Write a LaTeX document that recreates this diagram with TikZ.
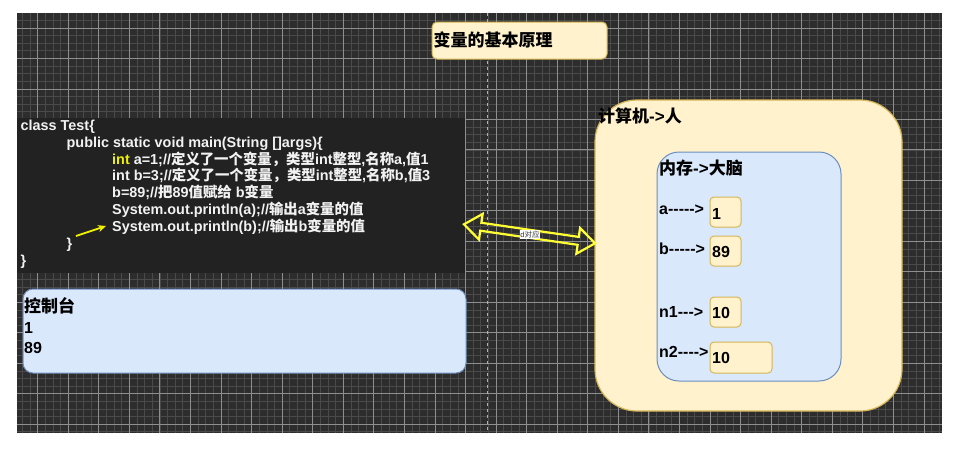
\documentclass[tikz,border=0pt]{standalone}
\usepackage{fontspec}
\setmainfont{Liberation Sans}
\newfontfamily\cjk{Noto Sans CJK SC}
\newcommand\zh[1]{{\cjk #1}}
\newcommand\hy{\mbox{-}}
\usetikzlibrary{arrows.meta}
\definecolor{gridbg}{HTML}{2D2D2D}
\definecolor{gridminor}{HTML}{4A4A4A}
\definecolor{gridmajor}{HTML}{8E8E8E}
\definecolor{board}{HTML}{222222}
\definecolor{yfill}{HTML}{FFF2CC}
\definecolor{ydraw}{HTML}{D6B656}
\definecolor{bfill}{HTML}{DAE8FC}
\definecolor{bdraw}{HTML}{6C8EBF}
\definecolor{codeyellow}{HTML}{F2F200}
\definecolor{arrowyellow}{HTML}{FFFF33}
\tikzset{
  ybox/.style={draw=ydraw,fill=yfill,line width=1pt,inner sep=0pt},
  bbox/.style={draw=bdraw,fill=bfill,line width=1pt,inner sep=0pt},
  codeline/.style={anchor=base west,inner sep=0pt,text=white!95!black,font=\bfseries\fontsize{14.4}{17}\selectfont},
  lbl/.style={anchor=base west,inner sep=0pt,text=black,font=\bfseries\fontsize{16}{19}\selectfont},
  head/.style={anchor=base west,inner sep=0pt,text=black,font=\bfseries\fontsize{17}{20}\selectfont},
}
\begin{document}
\begin{tikzpicture}[x=1pt,y=-1pt]
\useasboundingbox (0,0) rectangle (976,448);
\fill[white] (0,0) rectangle (976,448);
% grid background
\begin{scope}
\clip (17,13) rectangle (942,433);
\fill[gridbg] (17,13) rectangle (942,433);
\foreach \i in {-3,...,120} \draw[gridminor,line width=0.8pt] ({37.7+7.64*\i},13) -- ({37.7+7.64*\i},433);
\foreach \i in {-2,...,56} \draw[gridminor,line width=0.8pt] (17,{28+7.62*\i}) -- (942,{28+7.62*\i});
\foreach \i in {-1,...,30} \draw[gridmajor,line width=0.9pt] ({37.7+30.56*\i},13) -- ({37.7+30.56*\i},433);
\foreach \i in {-1,...,14} \draw[gridmajor,line width=0.9pt] (17,{28+30.48*\i}) -- (942,{28+30.48*\i});
\end{scope}
\coordinate (dtop) at (487,13);
\coordinate (dbot) at (487,433);
\draw[gray!60,dashed,line width=0.8pt] (dtop) -- (dbot);

% title
\node[ybox,rounded corners=5pt,minimum width=175pt,minimum height=37pt] (title) at (519.5,40.5) {};
\node[head] (titletext) at (433.5,46.5) {\zh{变量的基本原理}};

% code board
\node[fill=board,inner sep=0pt,minimum width=448pt,minimum height=155pt] (boardbox) at (241,195.5) {};
\node[codeline] (c1) at (20.5,130.2) {class Test\{};
\node[codeline] (c2) at (66.5,147.1) {public static void main(String []args)\{};
\node[codeline] (c3) at (112,164.0) {{\color{codeyellow}int} a=1;//\zh{定义了一个变量，类型}int\zh{整型},\zh{名称}a,\zh{值}1};
\node[codeline] (c4) at (112,180.9) {int b=3;//\zh{定义了一个变量，类型}int\zh{整型},\zh{名称}b,\zh{值}3};
\node[codeline] (c5) at (112,197.8) {b=89;//\zh{把}89\zh{值赋给} b\zh{变量}};
\node[codeline] (c6) at (112,214.7) {System.out.println(a);//\zh{输出}a\zh{变量的值}};
\node[codeline] (c7) at (112,231.6) {System.out.println(b);//\zh{输出}b\zh{变量的值}};
\node[codeline] (c8) at (66.5,248.5) {\}};
\node[codeline] (c9) at (20.5,265.4) {\}};
\coordinate (ya) at (76,236);
\coordinate (yb) at (106,226);
\draw[codeyellow,line width=1.8pt,-{Stealth[length=8pt,width=7pt]}] (ya) -- (yb);

% console
\node[bbox,rounded corners=10pt,minimum width=443pt,minimum height=84pt] (console) at (244.5,331) {};
\node[head] (con1) at (24,312.5) {\zh{控制台}};
\node[lbl] (con2) at (24,333.5) {1};
\node[lbl] (con3) at (24,353.5) {89};

% computer box
\node[ybox,line width=1.2pt,rounded corners=42pt,minimum width=307pt,minimum height=311pt] (pc) at (748.5,255.5) {};
\node[head] (pctext) at (598,122.5) {\zh{计算机}\hy>\zh{人}};
\node[bbox,rounded corners=22pt,minimum width=184pt,minimum height=229pt] (mem) at (749,266.5) {};
\node[head] (memtext) at (659,174.5) {\zh{内存}\hy>\zh{大脑}};

% variables
\node[ybox,rounded corners=4pt,minimum width=31pt,minimum height=30pt] (va) at (725.5,212) {};
\node[ybox,rounded corners=4pt,minimum width=31pt,minimum height=30pt] (vb) at (725.5,251) {};
\node[ybox,rounded corners=4pt,minimum width=31pt,minimum height=30pt] (vn1) at (725.5,312) {};
\node[ybox,rounded corners=4pt,minimum width=62pt,minimum height=31pt] (vn2) at (741,357.5) {};
\node[lbl] (la) at (659,214) {a\hy\hy\hy\hy\hy>};
\node[lbl] (lb) at (659,254) {b\hy\hy\hy\hy\hy>};
\node[lbl] (ln1) at (659,317.5) {n1\hy\hy\hy>};
\node[lbl] (ln2) at (659,357.5) {n2\hy\hy\hy\hy>};
\node[lbl] (ta) at (712,219) {1};
\node[lbl] (tb) at (712,257.5) {89};
\node[lbl] (tn1) at (712,318) {10};
\node[lbl] (tn2) at (712,363) {10};

% double arrow
\coordinate (dl) at (464,224.3);
\coordinate (dr) at (595,243.3);
\begin{scope}[shift={(dl)},rotate=-8.25]
\draw[arrowyellow,line width=2.2pt,line join=miter]
  (0,0) -- (17,-13) -- (17,-4) -- (115.4,-4) -- (115.4,-13) -- (132.4,0)
  -- (115.4,13) -- (115.4,4) -- (17,4) -- (17,13) -- cycle;
\end{scope}
\node[fill=white,inner sep=0.6pt,text=black!80,font=\fontsize{7.5}{8}\selectfont] (corr) at (530,234.5) {d\zh{对应}};
\end{tikzpicture}
\end{document}
